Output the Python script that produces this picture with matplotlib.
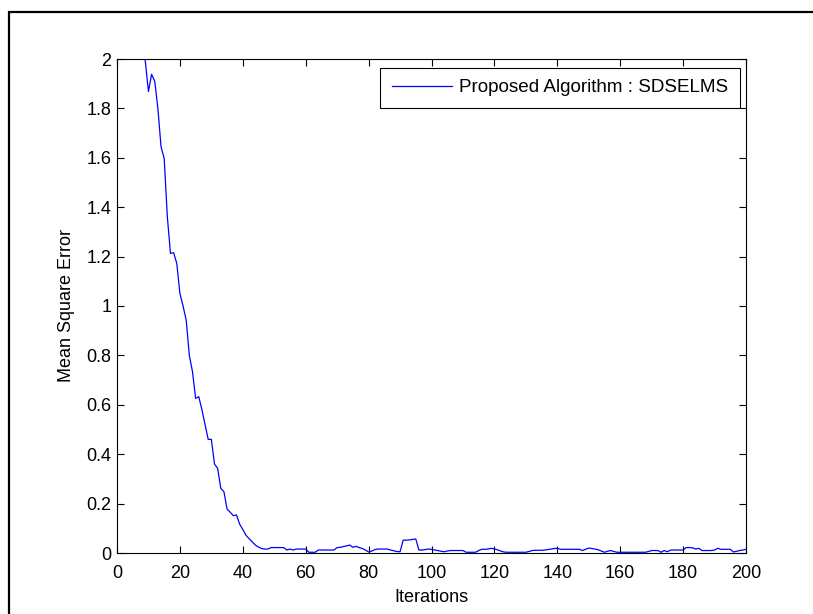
import numpy as np
import matplotlib
matplotlib.use('Agg')
import matplotlib.pyplot as plt
from matplotlib.patches import Rectangle
from matplotlib.ticker import FuncFormatter

plt.rcParams['font.family'] = ['Liberation Sans', 'DejaVu Sans']

# mean square error per iteration, 1..200
mse = [3.10, 2.95, 2.80, 2.66, 2.52, 2.40, 2.27, 2.10, 1.99, 1.868,
       1.938, 1.910, 1.800, 1.645, 1.598, 1.362, 1.213, 1.216, 1.173, 1.051,
       1.000, 0.943, 0.800, 0.734, 0.626, 0.633, 0.580, 0.520, 0.460, 0.460,
       0.360, 0.343, 0.262, 0.248, 0.178, 0.165, 0.151, 0.154, 0.117, 0.095,
       0.072, 0.058, 0.045, 0.032, 0.024, 0.018, 0.016, 0.016, 0.022, 0.022,
       0.022, 0.022, 0.022, 0.012, 0.016, 0.012, 0.016, 0.016, 0.016, 0.016,
       0.003, 0.003, 0.003, 0.012, 0.012, 0.012, 0.012, 0.012, 0.012, 0.022,
       0.023, 0.026, 0.029, 0.032, 0.023, 0.027, 0.022, 0.018, 0.012, 0.004,
       0.008, 0.014, 0.016, 0.016, 0.016, 0.016, 0.012, 0.009, 0.006, 0.005,
       0.052, 0.052, 0.053, 0.055, 0.057, 0.012, 0.012, 0.014, 0.016, 0.015,
       0.012, 0.010, 0.007, 0.005, 0.008, 0.010, 0.010, 0.010, 0.010, 0.010,
       0.003, 0.003, 0.003, 0.003, 0.010, 0.015, 0.015, 0.016, 0.019, 0.016,
       0.013, 0.008, 0.004, 0.003, 0.003, 0.003, 0.003, 0.003, 0.003, 0.003,
       0.006, 0.010, 0.011, 0.011, 0.011, 0.012, 0.014, 0.016, 0.018, 0.019,
       0.015, 0.015, 0.015, 0.015, 0.015, 0.015, 0.015, 0.010, 0.015, 0.020,
       0.018, 0.016, 0.013, 0.008, 0.003, 0.007, 0.010, 0.006, 0.003, 0.003,
       0.003, 0.003, 0.003, 0.003, 0.003, 0.003, 0.003, 0.003, 0.006, 0.010,
       0.010, 0.010, 0.003, 0.010, 0.005, 0.012, 0.012, 0.012, 0.012, 0.012,
       0.022, 0.022, 0.021, 0.016, 0.019, 0.010, 0.010, 0.010, 0.010, 0.012,
       0.019, 0.015, 0.015, 0.015, 0.015, 0.004, 0.007, 0.010, 0.012, 0.015]
iterations = np.arange(1, len(mse) + 1)

x_ticks = list(range(0, 201, 20))
y_ticks = [0, 0.2, 0.4, 0.6, 0.8, 1, 1.2, 1.4, 1.6, 1.8, 2]

fig = plt.figure(figsize=(8.13, 6.14), dpi=100)

# outer frame (runs off right and bottom edges)
fig.patches.append(Rectangle((9 / 813, -0.1), 1.2, 1 - 12 / 614 + 0.1,
                             transform=fig.transFigure, fill=False,
                             edgecolor='black', linewidth=1.6))

ax = fig.add_axes([117 / 813, 61 / 614, 629 / 813, 494 / 614])
ax.plot(iterations, mse, color='#0000ff', linewidth=0.9,
        label='Proposed Algorithm : SDSELMS')

ax.set_xlim(0, 200)
ax.set_ylim(0, 2)
ax.set_xticks(x_ticks)
ax.set_yticks(y_ticks)
ax.yaxis.set_major_formatter(FuncFormatter(lambda v, p: '%g' % v))
ax.tick_params(direction='in', top=True, right=True, length=5, width=0.8,
               labelsize=13)
ax.tick_params(axis='x', pad=9)
ax.tick_params(axis='y', pad=4)
for s in ax.spines.values():
    s.set_linewidth(0.8)

ax.set_xlabel('Iterations', fontsize=13, labelpad=4.5)
ax.set_ylabel('Mean Square Error', fontsize=13, labelpad=8.5)

leg = ax.legend(loc='upper right', bbox_to_anchor=(0.990, 0.982),
                borderaxespad=0, fancybox=False, framealpha=1,
                edgecolor='black', fontsize=13.6, handlelength=3.2,
                handletextpad=0.38, borderpad=0.6)
leg.get_frame().set_linewidth(0.8)

fig.savefig('out.png', dpi=100)
